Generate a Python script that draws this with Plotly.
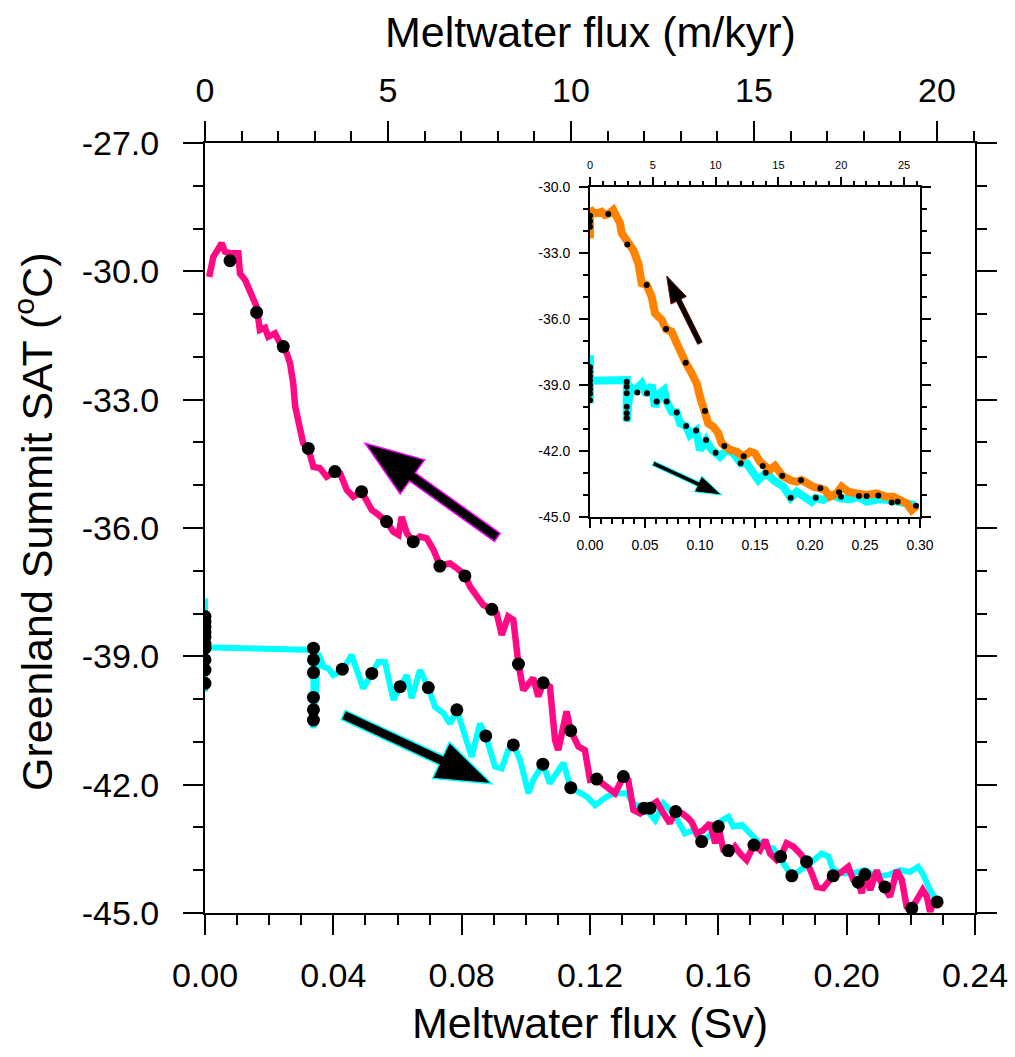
import math
import plotly.graph_objects as go

W, H = 1015, 1057
FONT = "Liberation Sans"

# ---------------- data ----------------
# main panel: magenta (pink) curve
pink_x = [0.0013,0.0026,0.0036,0.0052,0.0062,0.0078,0.0104,0.0109,0.0125,0.0140,
          0.0161,0.0171,0.0187,0.0197,0.0218,0.0234,0.0255,0.0265,0.0275,0.0281,
          0.0291,0.0306,0.0322,0.0338,0.0358,0.0379,0.0405,0.0421,0.0442,0.0462,
          0.0488,0.0504,0.0520,0.0535,0.0566,0.0587,0.0603,0.0613,0.0629,0.0649,
          0.0670,0.0691,0.0712,0.0732,0.0764,0.0785,0.0810,0.0826,0.0847,0.0867,
          0.0894,0.0909,0.0925,0.0945,0.0961,0.0972,0.0977,0.0992,0.1008,0.1023,
          0.1039,0.1054,0.1075,0.1091,0.1101,0.1127,0.1140,0.1164,0.1184,0.1200,
          0.1221,0.1241,0.1262,0.1278,0.1304,0.1319,0.1335,0.1356,0.1377,0.1408,
          0.1429,0.1449,0.1467,0.1486,0.1501,0.1517,0.1533,0.1553,0.1574,0.1590,
          0.1600,0.1616,0.1636,0.1652,0.1668,0.1688,0.1711,0.1730,0.1746,0.1761,
          0.1782,0.1794,0.1813,0.1834,0.1855,0.1875,0.1891,0.1907,0.1927,0.1948,
          0.1958,0.1979,0.2005,0.2021,0.2036,0.2047,0.2057,0.2073,0.2094,0.2104,
          0.2119,0.2135,0.2156,0.2172,0.2187,0.2203,0.2218,0.2237,0.2250,0.2260,
          0.2270,0.2282]
pink_y = [-30.13,-29.66,-29.54,-29.34,-29.54,-29.58,-29.58,-30.05,-30.20,-30.48,
          -30.83,-31.37,-31.32,-31.53,-31.45,-31.68,-31.92,-32.15,-32.62,-33.16,
          -33.55,-34.02,-34.14,-34.57,-34.60,-34.80,-34.68,-34.72,-35.11,-35.27,
          -35.15,-35.35,-35.58,-35.66,-35.85,-36.09,-36.16,-35.74,-36.12,-36.32,
          -36.20,-36.24,-36.51,-36.87,-36.83,-36.94,-37.10,-37.37,-37.61,-37.80,
          -37.90,-37.99,-38.50,-38.07,-38.15,-38.93,-39.18,-39.79,-39.63,-39.51,
          -39.94,-39.62,-39.71,-40.96,-41.19,-40.29,-40.74,-41.11,-41.19,-41.89,
          -41.87,-41.97,-42.12,-42.20,-41.81,-41.89,-42.59,-42.67,-42.55,-42.40,
          -42.67,-42.90,-42.63,-42.67,-42.75,-42.87,-43.14,-43.06,-42.90,-43.37,
          -42.98,-43.53,-43.61,-43.45,-43.61,-43.76,-43.41,-43.53,-43.29,-43.61,
          -43.76,-43.68,-43.37,-43.45,-43.61,-43.80,-44.07,-44.39,-44.42,-44.23,
          -44.13,-44.07,-43.92,-44.23,-44.28,-44.54,-44.10,-44.46,-44.00,-44.23,
          -44.39,-44.62,-44.00,-44.23,-44.85,-44.89,-44.70,-44.46,-44.62,-44.97,
          -44.77,-44.74]
pink_dot_x = [0.0078,0.0161,0.0244,0.0322,0.0405,0.0488,0.0566,0.0649,0.0732,0.0810,
              0.0894,0.0977,0.1054,0.1140,0.1221,0.1304,0.1368,0.1387,0.1467,0.1600,
              0.1631,0.1711,0.1794,0.1875,0.1958,0.2036,0.2057,0.2119,0.2203,0.2282]
pink_dot_y = [-29.75,-30.96,-31.76,-34.14,-34.68,-35.15,-35.85,-36.32,-36.89,-37.12,
              -37.90,-39.18,-39.62,-40.74,-41.87,-41.81,-42.55,-42.55,-42.63,-42.98,
              -43.54,-43.41,-43.68,-43.80,-44.13,-44.28,-44.10,-44.39,-44.89,-44.74]

# main panel: cyan curve
cyan_x = [0.0,0.0,0.0,0.0338,0.0338,
          0.0353,0.0369,0.0384,0.0400,0.0410,0.0428,0.0442,0.0457,0.0473,0.0493,
          0.0520,0.0540,0.0561,0.0587,0.0608,0.0629,0.0644,0.0670,0.0696,0.0717,
          0.0743,0.0764,0.0785,0.0805,0.0831,0.0857,0.0875,0.0904,0.0925,0.0945,
          0.0961,0.0982,0.1008,0.1023,0.1053,0.1075,0.1096,0.1117,0.1140,0.1169,
          0.1190,0.1216,0.1231,0.1252,0.1278,0.1314,0.1335,0.1377,0.1403,0.1429,
          0.1460,0.1496,0.1522,0.1548,0.1574,0.1605,0.1631,0.1647,0.1673,0.1709,
          0.1740,0.1771,0.1803,0.1829,0.1855,0.1886,0.1922,0.1943,0.1958,0.1990,
          0.2021,0.2057,0.2094,0.2130,0.2166,0.2197,0.2223,0.2239,0.2260,0.2275,
          0.2282]
cyan_y = [-37.64,-39.83,-38.79,-38.85,-40.68,
          -38.93,-39.24,-39.28,-39.44,-39.40,-39.30,-39.16,-38.97,-39.32,-39.75,
          -39.40,-39.13,-39.13,-40.02,-39.71,-39.44,-39.98,-39.32,-39.73,-40.18,
          -40.33,-40.57,-40.25,-40.72,-41.35,-40.57,-40.86,-41.58,-41.62,-41.19,
          -41.07,-41.42,-42.20,-41.89,-41.52,-41.97,-41.73,-41.49,-42.07,-42.20,
          -42.28,-42.48,-42.40,-42.28,-42.20,-42.20,-42.44,-42.59,-42.83,-42.44,
          -42.67,-43.14,-43.06,-43.33,-43.18,-42.87,-42.75,-42.98,-42.94,-43.22,
          -43.45,-43.49,-43.84,-44.13,-44.00,-43.84,-43.61,-43.68,-44.00,-44.07,
          -44.07,-44.00,-44.15,-44.11,-44.00,-44.04,-43.92,-44.11,-44.46,-44.66,
          -44.74]
cyan_dot_x = [0.0,0.0,0.0,0.0,0.0,0.0,0.0,0.0,0.0,0.0,
              0.0338,0.0338,0.0338,0.0338,0.0338,0.0338,
              0.0428,0.0520,0.0608,0.0696,0.0785,0.0875,0.0961,0.1053,0.1140,0.1548,0.1829]
cyan_dot_y = [-38.07,-38.19,-38.31,-38.43,-38.54,-38.70,-38.81,-39.08,-39.32,-39.63,
              -38.81,-39.08,-39.38,-39.96,-40.25,-40.49,
              -39.30,-39.40,-39.71,-39.73,-40.25,-40.86,-41.07,-41.52,-42.07,-43.33,-44.13]

# inset: orange curve
orange_x = [0.0,0.0,0.0015,0.0061,0.0106,0.0136,0.0166,0.0212,0.0243,0.0273,0.0288,0.0318,
            0.0339,0.0394,0.0439,0.0470,0.0515,0.0561,0.0591,0.0652,0.0691,0.0743,
            0.0788,0.0834,0.0870,0.0924,0.0970,0.1000,0.1045,0.1075,0.1121,0.1166,
            0.1197,0.1221,0.1273,0.1334,0.1394,0.1455,0.1500,0.1545,0.1591,0.1636,
            0.1682,0.1748,0.1818,0.1879,0.1924,0.1985,0.2030,0.2091,0.2136,0.2182,
            0.2242,0.2288,0.2348,0.2424,0.2515,0.2606,0.2697,0.2758,0.2818,0.2879,
            0.2924,0.2955,0.2970]
orange_y = [-32.32,-30.96,-31.11,-31.18,-31.11,-31.26,-31.22,-31.03,-31.26,-31.64,-32.09,-32.32,
            -32.60,-32.86,-33.46,-34.37,-34.45,-34.98,-35.74,-36.04,-36.45,-36.58,
            -37.10,-37.71,-37.99,-38.47,-38.93,-39.54,-40.19,-40.75,-40.90,-41.20,
            -41.66,-41.78,-41.96,-42.04,-42.27,-42.04,-42.11,-42.50,-42.72,-42.87,
            -42.69,-43.13,-43.33,-43.41,-43.33,-43.56,-43.64,-43.71,-43.79,-44.09,
            -43.94,-43.63,-43.86,-43.94,-44.01,-43.94,-44.09,-44.09,-44.24,-44.39,
            -44.70,-44.55,-44.50]
orange_dot_x = [0.0,0.0,0.0,0.0166,0.0339,0.0515,0.0691,0.0870,0.1045,0.1221,0.1397,0.1570,
                0.1748,0.1918,0.2094,0.2264,0.2282,0.2445,0.2515,0.2621,0.2742,0.2797,0.2964]
orange_dot_y = [-31.30,-31.55,-31.80,-31.22,-32.60,-34.45,-36.45,-37.99,-40.19,-41.78,-42.25,-42.69,
                -43.13,-43.34,-43.71,-43.89,-44.09,-44.06,-44.06,-44.04,-44.35,-44.32,-44.50]

# inset: cyan curve
icyan_x = [0.0,0.0,0.0,0.0334,0.0334,0.0364,0.0409,0.0470,0.0515,0.0561,
           0.0591,0.0636,0.0673,0.0697,0.0743,0.0788,0.0818,0.0873,0.0909,0.0964,
           0.1000,0.1055,0.1106,0.1142,0.1182,0.1242,0.1303,0.1370,0.1424,0.1485,
           0.1530,0.1597,0.1667,0.1758,0.1824,0.1879,0.1939,0.2015,0.2052,0.2121,
           0.2197,0.2273,0.2364,0.2439,0.2515,0.2621,0.2727,0.2848,0.2955]
icyan_y = [-37.64,-39.84,-38.81,-38.78,-40.67,-39.08,-39.23,-38.93,-39.46,-39.00,
           -39.99,-39.38,-39.23,-39.76,-40.22,-40.25,-40.75,-40.87,-41.28,-41.08,
           -41.96,-41.51,-41.96,-42.09,-42.27,-41.96,-42.11,-42.57,-42.57,-43.02,
           -43.33,-43.00,-43.33,-43.63,-44.14,-43.86,-44.09,-44.32,-44.14,-44.24,
           -44.01,-44.16,-44.21,-44.09,-44.32,-44.21,-44.24,-44.32,-44.47]
icyan_dot_x = [0.0,0.0,0.0,0.0,0.0,0.0,0.0,0.0,
               0.0334,0.0334,0.0334,0.0334,0.0334,0.0334,
               0.0430,0.0518,0.0606,0.0697,0.0788,0.0873,0.0964,0.1055,0.1142,0.1370,0.1597,0.1824,0.2052]
icyan_dot_y = [-38.20,-38.40,-38.60,-38.80,-39.00,-39.20,-39.40,-39.70,
               -38.85,-39.08,-39.38,-39.99,-40.29,-40.52,
               -39.34,-39.38,-39.75,-39.75,-40.25,-40.87,-41.08,-41.51,-42.09,-42.57,-43.00,-44.14,-44.14]

# tick labels
main_x_ticks = [0.00, 0.04, 0.08, 0.12, 0.16, 0.20, 0.24]
main_x_ticktext = ["0.00", "0.04", "0.08", "0.12", "0.16", "0.20", "0.24"]
main_top_ticks = [0, 5, 10, 15, 20]
main_top_ticktext = ["0", "5", "10", "15", "20"]
main_y_ticks = [-27, -30, -33, -36, -39, -42, -45]
main_y_ticktext = ["-27.0", "-30.0", "-33.0", "-36.0", "-39.0", "-42.0", "-45.0"]
inset_x_ticks = [0.00, 0.05, 0.10, 0.15, 0.20, 0.25, 0.30]
inset_x_ticktext = ["0.00", "0.05", "0.10", "0.15", "0.20", "0.25", "0.30"]
inset_top_ticks = [0, 5, 10, 15, 20, 25]
inset_top_ticktext = ["0", "5", "10", "15", "20", "25"]
inset_y_ticks = [-30, -33, -36, -39, -42, -45]
inset_y_ticktext = ["-30.0", "-33.0", "-36.0", "-39.0", "-42.0", "-45.0"]

# arrows (tail -> tip, in data units of each panel)
main_arrow_up = [(0.0911, -36.22), (0.0499, -34.02)]
main_arrow_down = [(0.0431, -40.37), (0.0894, -41.98)]
inset_arrow_up = [(0.1000, -37.10), (0.0697, -34.04)]
inset_arrow_down = [(0.0575, -42.57), (0.1197, -44.01)]

# ---------------- layout geometry ----------------
MAIN = dict(l=205, r=975, t=143, b=913)
INSET = dict(l=590, r=920, t=187.3, b=516.7)
main_xr, main_yr, main_topr = [0, 0.24], [-45, -27], [0, 21.04]
inset_xr, inset_yr, inset_topr = [0, 0.30], [-45, -30], [0, 26.27]

PINK = "#FF0A84"
CYAN = "#00FFFF"
ORANGE = "#FF8200"


def to_px(box, xr, yr, x, y):
    px = box["l"] + (x - xr[0]) / (xr[1] - xr[0]) * (box["r"] - box["l"])
    py = box["b"] - (y - yr[0]) / (yr[1] - yr[0]) * (box["b"] - box["t"])
    return px, py


def arrow_path(box, xr, yr, tail, tip, shaft, hlen, hwid):
    x0, y0 = to_px(box, xr, yr, *tail)
    x1, y1 = to_px(box, xr, yr, *tip)
    d = math.hypot(x1 - x0, y1 - y0)
    ux, uy = (x1 - x0) / d, (y1 - y0) / d
    nx, ny = -uy, ux
    bx, by = x1 - ux * hlen, y1 - uy * hlen
    pts = [(x0 + nx * shaft / 2, y0 + ny * shaft / 2),
           (bx + nx * shaft / 2, by + ny * shaft / 2),
           (bx + nx * hwid / 2, by + ny * hwid / 2),
           (x1, y1),
           (bx - nx * hwid / 2, by - ny * hwid / 2),
           (bx - nx * shaft / 2, by - ny * shaft / 2),
           (x0 - nx * shaft / 2, y0 - ny * shaft / 2)]
    s = ""
    for i, (px, py) in enumerate(pts):
        s += ("M" if i == 0 else "L") + f"{px / W:.5f},{1 - py / H:.5f} "
    return s + "Z"


def dom(box):
    return [box["l"] / W, box["r"] / W], [1 - box["b"] / H, 1 - box["t"] / H]


main_xd, main_yd = dom(MAIN)
inset_xd, inset_yd = dom(INSET)

fig = go.Figure()

# main panel
fig.add_trace(go.Scatter(x=cyan_x, y=cyan_y, mode="lines", line=dict(color=CYAN, width=6),
                         xaxis="x", yaxis="y", hoverinfo="skip"))
fig.add_trace(go.Scatter(x=pink_x, y=pink_y, mode="lines", line=dict(color=PINK, width=6.5),
                         xaxis="x", yaxis="y", hoverinfo="skip"))
fig.add_trace(go.Scatter(x=cyan_dot_x + pink_dot_x, y=cyan_dot_y + pink_dot_y, mode="markers",
                         marker=dict(color="black", size=13), xaxis="x", yaxis="y", hoverinfo="skip"))
fig.add_trace(go.Scatter(x=main_topr, y=main_yr, mode="markers", marker=dict(opacity=0, size=1),
                         xaxis="x2", yaxis="y", hoverinfo="skip"))

# inset panel
fig.add_trace(go.Scatter(x=icyan_x, y=icyan_y, mode="lines", line=dict(color=CYAN, width=8),
                         xaxis="x3", yaxis="y3", hoverinfo="skip"))
fig.add_trace(go.Scatter(x=orange_x, y=orange_y, mode="lines", line=dict(color=ORANGE, width=8),
                         xaxis="x3", yaxis="y3", hoverinfo="skip"))
fig.add_trace(go.Scatter(x=icyan_dot_x + orange_dot_x, y=icyan_dot_y + orange_dot_y, mode="markers",
                         marker=dict(color="black", size=6), xaxis="x3", yaxis="y3", hoverinfo="skip"))
fig.add_trace(go.Scatter(x=inset_topr, y=inset_yr, mode="markers", marker=dict(opacity=0, size=1),
                         xaxis="x4", yaxis="y3", hoverinfo="skip"))


def axis(domain, rng, vals, text, size, tl, mtl, mdt, standoff, **kw):
    d = dict(domain=domain, range=rng, tickmode="array", tickvals=vals, ticktext=text,
             ticks="outside", ticklen=tl, tickwidth=2, tickcolor="black", automargin=False,
             showline=True, linewidth=2, linecolor="black", showgrid=False, zeroline=False,
             tickfont=dict(family=FONT, size=size, color="black"), ticklabelstandoff=standoff,
             minor=dict(tick0=0, dtick=mdt, ticks="outside", ticklen=mtl, tickwidth=2,
                        tickcolor="black", showgrid=False))
    d.update(kw)
    return d


fig.update_layout(
    template="none",
    width=W, height=H, autosize=False,
    margin=dict(l=0, r=0, t=0, b=0, pad=0),
    paper_bgcolor="white", plot_bgcolor="white", showlegend=False,
    xaxis=axis(main_xd, main_xr, main_x_ticks, main_x_ticktext, 34, 20, 10, 0.01, 11,
               anchor="y", side="bottom"),
    xaxis2=axis(main_xd, main_topr, main_top_ticks, main_top_ticktext, 34, 20, 10, 1, 5,
                anchor="y", side="top", overlaying="x"),
    yaxis=axis(main_yd, main_yr, main_y_ticks, main_y_ticktext, 34, 20, 10, 1, 17,
               anchor="x", mirror="ticks"),
    xaxis3=axis(inset_xd, inset_xr, inset_x_ticks, inset_x_ticktext, 14, 9, 5, 0.01, 5,
                anchor="y3", side="bottom"),
    xaxis4=axis(inset_xd, inset_topr, inset_top_ticks, inset_top_ticktext, 11, 8, 4, 1, 4,
                anchor="y3", side="top", overlaying="x3"),
    yaxis3=axis(inset_yd, inset_yr, inset_y_ticks, inset_y_ticktext, 14, 9, 5, 1, 6,
                anchor="x3", mirror="ticks"),
)

fig.update_layout(shapes=[
    dict(type="path", xref="paper", yref="paper", fillcolor="black",
         line=dict(color="#FF00FF", width=1.5),
         path=arrow_path(MAIN, main_xr, main_yr, *main_arrow_up, 10, 58, 42)),
    dict(type="path", xref="paper", yref="paper", fillcolor="black",
         line=dict(color=CYAN, width=1.5),
         path=arrow_path(MAIN, main_xr, main_yr, *main_arrow_down, 10, 56, 40)),
    dict(type="path", xref="paper", yref="paper", fillcolor="black",
         line=dict(color="#700000", width=1),
         path=arrow_path(INSET, inset_xr, inset_yr, *inset_arrow_up, 5, 27, 17)),
    dict(type="path", xref="paper", yref="paper", fillcolor="black",
         line=dict(color=CYAN, width=1),
         path=arrow_path(INSET, inset_xr, inset_yr, *inset_arrow_down, 4.5, 26, 17)),
])

TITLE_FONT = dict(family=FONT, size=43, color="black")
fig.update_layout(annotations=[
    dict(text="Meltwater flux (Sv)", x=590 / W, y=1 - 1023 / H, xref="paper", yref="paper",
         showarrow=False, xanchor="center", yanchor="middle", font=TITLE_FONT),
    dict(text="Meltwater flux (m/kyr)", x=590 / W, y=1 - 32 / H, xref="paper", yref="paper",
         showarrow=False, xanchor="center", yanchor="middle", font=TITLE_FONT),
    dict(text="Greenland Summit SAT (<sup>o</sup>C)", x=34 / W, y=1 - 522 / H, xref="paper",
         yref="paper", showarrow=False, xanchor="center", yanchor="middle", textangle=-90,
         font=TITLE_FONT),
])

fig.write_html("out.html")
